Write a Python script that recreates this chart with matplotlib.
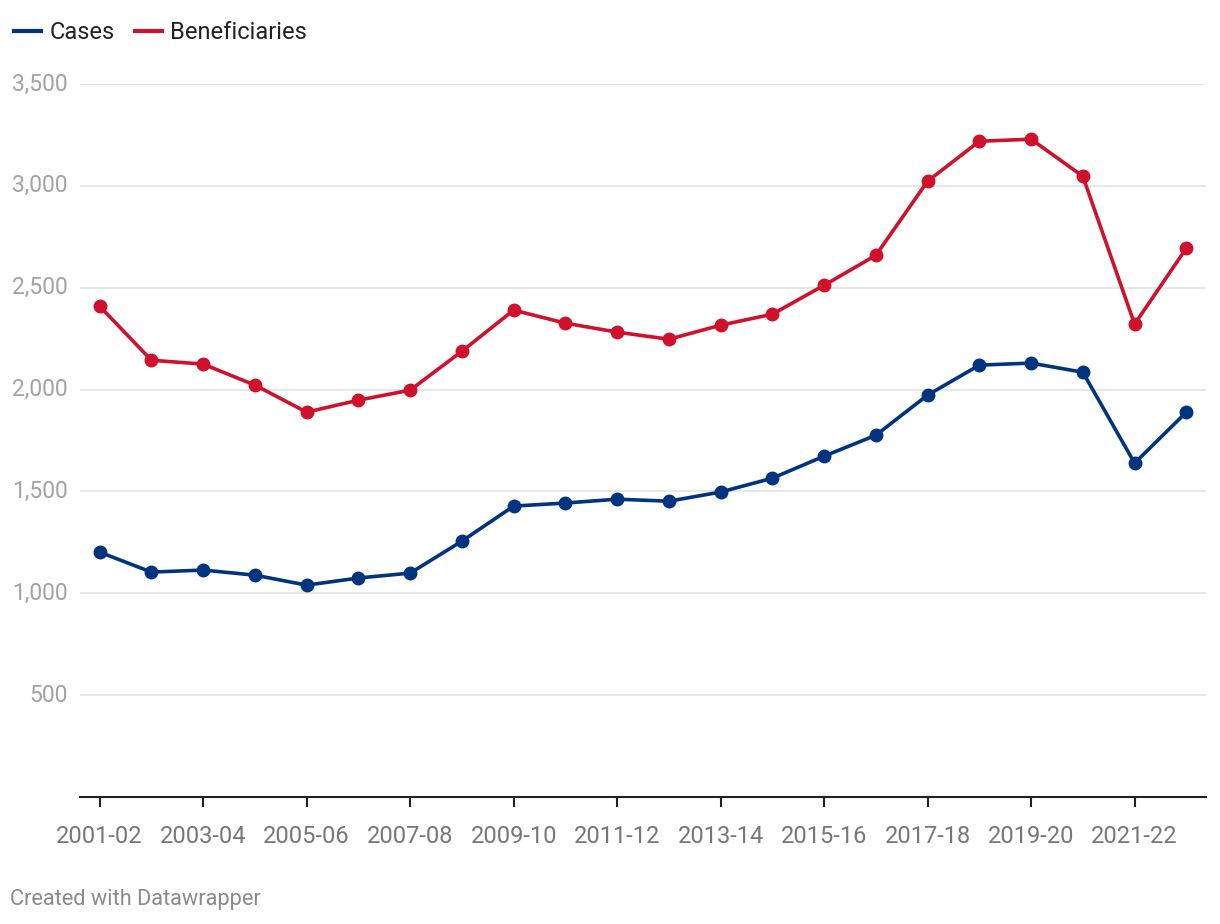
import matplotlib.pyplot as plt
from matplotlib.lines import Line2D

plt.rcParams['font.family'] = ['Roboto', 'DejaVu Sans']

# Anos fiscais
years = ["2001-02", "2002-03", "2003-04", "2004-05", "2005-06", "2006-07",
         "2007-08", "2008-09", "2009-10", "2010-11", "2011-12", "2012-13",
         "2013-14", "2014-15", "2015-16", "2016-17", "2017-18", "2018-19",
         "2019-20", "2020-21", "2021-22", "2022-23"]

cases = [1202, 1104, 1114, 1089, 1040, 1075, 1099, 1256, 1428, 1443, 1462,
         1452, 1497, 1565, 1673, 1776, 1973, 2120, 2130, 2085, 1639, 1889]

beneficiaries = [2409, 2144, 2125, 2022, 1889, 1948, 1997, 2188, 2390, 2326,
                 2282, 2247, 2316, 2370, 2512, 2659, 3023, 3219, 3229, 3047,
                 2321, 2694]

yticks = [500, 1000, 1500, 2000, 2500, 3000, 3500]

blue = "#00347f"
red = "#d0112b"

fig = plt.figure(figsize=(12.2, 9.24), dpi=100)
ax = fig.add_axes([80 / 1220, 1 - 797 / 924, (1206 - 80) / 1220, (797 - 84) / 924])

x = list(range(len(years)))
ax.plot(x, cases, color=blue, lw=2.6, marker="o", ms=9, clip_on=False, zorder=3)
ax.plot(x, beneficiaries, color=red, lw=2.6, marker="o", ms=9, clip_on=False, zorder=3)

ax.set_xlim(-0.38, len(years) - 1 + 0.38)
ax.set_ylim(0, 3500)
ax.set_yticks(yticks)
ax.set_yticklabels([f"{v:,}" for v in yticks])
ax.set_xticks(x[::2])
ax.set_xticklabels(years[::2])

ax.grid(axis="y", color="#e3e3e3", lw=1.2)
ax.set_axisbelow(True)
for s in ["top", "right", "left"]:
    ax.spines[s].set_visible(False)
ax.spines["bottom"].set_color("#222222")
ax.spines["bottom"].set_linewidth(1.5)

ax.tick_params(axis="y", length=0, pad=9, labelsize=16.5, labelcolor="#a3a3a3")
ax.tick_params(axis="x", length=7, width=1.5, color="#222222", pad=13,
               labelsize=17, labelcolor="#777777")
for lbl in ax.get_yticklabels():
    lbl.set_verticalalignment("center")

# Legenda
handles = [Line2D([], [], color=blue, lw=3), Line2D([], [], color=red, lw=3)]
fig.legend(handles, ["Cases", "Beneficiaries"], loc="upper left",
           bbox_to_anchor=(-0.006, 1.0), ncol=2, frameon=False, fontsize=17,
           handlelength=1.15, handletextpad=0.35, columnspacing=0.85,
           labelcolor="#222222")

fig.text(10 / 1220, 1 - 900 / 924, "Created with Datawrapper", fontsize=15.7,
         color="#8a8a8a", va="center", ha="left")

fig.savefig("out.png", dpi=100)
